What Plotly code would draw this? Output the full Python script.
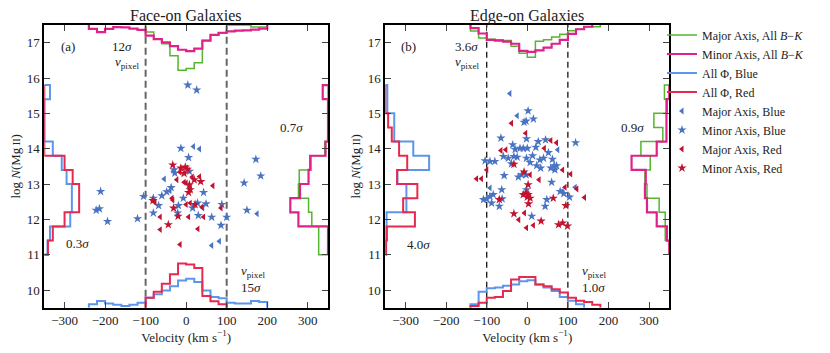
import plotly.graph_objects as go

# ------------------------------------------------------------------ data
VBIN = 20.0          # km/s, velocity histogram bin width
NBIN = 0.4           # dex, column-density histogram bin width
N_START = 11.0       # first column-density bin edge
V_PIXEL = [-100, 100]

# ---- Face-on: velocity histograms (bottom: all-Phi blue/red, top: major/minor)
fo_vblue_start = -240
fo_vblue = [0.10, 0.19, 0.12, 0.08, 0.05, 0.08, 0.14, 0.28, 0.38, 0.49, 0.61,
            0.77, 0.82, 0.73, 0.49, 0.30, 0.27, 0.14, 0.12, 0.12, 0.19, 0.16]
fo_vred_start = -100
fo_vred = [0.28, 0.45, 0.68, 0.95, 1.25, 1.22, 1.12, 0.33, 0.18, 0.10]
fo_vmajor_start = -100
fo_vmajor = [0.20, 0.40, 0.53, 0.87, 1.28, 1.23, 1.07, 0.44, 0.28, 0.23,
             0.0, 0.0, 0.0, 0.06, 0.06]
fo_vminor_start = -240
fo_vminor = [0.11, 0.20, 0.11, 0.06, 0.07, 0.10, 0.14, 0.30, 0.40, 0.49, 0.60,
             0.70, 0.74, 0.67, 0.44, 0.28, 0.22, 0.18, 0.16, 0.15, 0.13, 0.10]
# ---- Face-on: log N histograms (left: blue/red, right: major/minor)
fo_nblue = [8, 14, 64, 68, 68, 55, 43, 21, 0, 0, 0, 14]
fo_nred = [9, 21, 50, 86, 86, 70, 50, 0, 0, 0, 0, 0]
fo_nmajor = [23, 23, 40, 48, 73, 71, 42, 8, 0, 0, 0, 0]
fo_nminor = [0, 0, 73, 93, 69, 48, 44, 6, 0, 0, 0, 13]

# ---- Edge-on: velocity histograms
eo_vblue_start = -140
eo_vblue = [0.10, 0.45, 0.55, 0.57, 0.62, 0.66, 0.75, 0.78, 0.66, 0.57, 0.47,
            0.30, 0.20, 0.10]
eo_vred_start = -140
eo_vred = [0.05, 0.14, 0.28, 0.30, 0.47, 0.80, 0.87, 0.87, 0.66, 0.61, 0.52,
           0.43, 0.28, 0.20, 0.16, 0.08]
eo_vmajor_start = -140
eo_vmajor = [0.17, 0.37, 0.40, 0.42, 0.44, 0.60, 0.80, 0.91, 0.46, 0.42, 0.34,
             0.26, 0.16, 0.12, 0.05, 0.05]
eo_vminor_start = -140
eo_vminor = [0.09, 0.24, 0.42, 0.44, 0.47, 0.53, 0.73, 0.76, 0.72, 0.64, 0.53,
             0.42, 0.25, 0.12, 0.05]
# ---- Edge-on: log N histograms
eo_nblue = [0, 0, 3, 52, 52, 30, 108, 69, 22, 22, 5, 5]
eo_nred = [2, 4, 73, 44, 79, 29, 54, 34, 16, 7, 0, 0]
eo_nmajor = [0, 10, 10, 25, 55, 60, 47, 70, 16, 38, 5, 12]
eo_nminor = [0, 6, 31, 55, 60, 58, 93, 31, 7, 7, 7, 0]

# ---- Face-on absorbers: velocity (km/s) and log N
fo_minblue_v = [4, 26, -13, 6, 172, 184, 143, -211, -222, -214, -194, -120, -105,
                -81, -81, -68, -60, -48, -37, -28, 8, -7, 43, 28, 49, 30, 63, 86,
                100, 88, 150, -21, -30, -19, 16]
fo_minblue_n = [15.80, 15.66, 14.01, 13.75, 13.70, 13.23, 13.03, 12.79, 12.26,
                12.30, 11.94, 12.02, 12.65, 12.60, 12.18, 12.39, 12.67, 12.78,
                12.90, 13.31, 13.36, 12.60, 12.76, 12.46, 12.44, 12.11, 12.06,
                11.83, 12.06, 12.42, 12.26, 12.18, 13.40, 12.39, 12.32]
fo_majblue_v = [18, 33, -54, -31, -40, 175, 41, 63, 82]
fo_majblue_n = [14.06, 13.99, 13.14, 13.36, 12.81, 12.16, 12.32, 11.26, 11.38]
fo_minred_v = [-33, -13, -2, 3, 20, 36, 8, 10, 6, -82, -31, -20, -44, 22, -5]
fo_minred_n = [13.54, 13.45, 13.48, 13.42, 13.12, 13.07, 12.98, 12.84, 12.76,
               12.53, 12.32, 12.09, 11.85, 12.42, 13.30]
fo_majred_v = [-15, -23, 0, 66, 33, 10, -35, -33, 10, 0, 39, 86, -64, 6, 43, -64,
               29, -15, -77, 15, -5]
fo_majred_n = [13.33, 13.12, 13.03, 12.95, 13.21, 12.89, 12.60, 12.55, 12.46,
               12.42, 12.35, 12.32, 12.07, 12.07, 12.07, 11.71, 11.73, 11.29,
               12.48, 13.20, 13.05]

# ---- Edge-on absorbers
eo_majblue_v = [-43, -25, 75, -92, 118, 85]
eo_majblue_n = [15.56, 14.93, 13.97, 12.89, 12.91, 12.79]
eo_minblue_v = [2, 15, -8, -3, -65, -2, 27, 45, 52, 119, -36, -30, -18, -10, 0,
                21, -59, -47, -33, -25, -39, -2, 13, 31, 40, 62, 7, 23, 33, 58,
                66, 72, 68, -104, -92, -80, -57, -22, -14, -3, 60, -63, -84,
                -100, -108, -92, -88, -69, -62, 48, 44, 81, 90, 104, 11, -2]
eo_minblue_n = [15.07, 14.84, 14.75, 14.78, 14.30, 14.28, 14.20, 14.25, 13.89,
                14.17, 14.11, 13.98, 14.01, 14.01, 14.01, 14.04, 13.78, 13.73,
                13.78, 13.76, 13.57, 13.73, 13.80, 13.68, 13.73, 13.70, 13.61,
                13.52, 13.45, 13.45, 13.52, 13.52, 13.40, 13.66, 13.64, 13.64,
                13.24, 13.20, 13.26, 13.26, 13.05, 12.84, 12.70, 12.58, 12.56,
                12.65, 12.46, 12.37, 12.58, 12.56, 12.37, 12.79, 12.73, 12.63,
                12.09, 12.84]
eo_majred_v = [-39, -4, -65, -53, 42, 58, 72, -100, -125, -113, 7, 29, 87, 107,
               93, 122, 141, -21, -7, -2, 15]
eo_majred_n = [14.72, 14.44, 13.95, 13.97, 14.01, 14.23, 14.17, 13.40, 13.15,
               13.15, 13.26, 13.12, 13.40, 13.28, 12.91, 12.86, 12.62, 11.99,
               12.18, 11.76, 11.83]
eo_minred_v = [-33, -8, 2, -10, -3, 2, 7, 0, 3, -69, 64, 95, -33, 34, 77, 87, 99]
eo_minred_n = [13.56, 13.34, 12.98, 12.70, 12.74, 12.70, 12.60, 12.63, 12.44,
               12.56, 12.60, 12.39, 12.16, 11.95, 11.85, 11.90, 11.81]

# ------------------------------------------------------------------ style
FONT = "Liberation Serif, DejaVu Serif, serif"
GREEN = "#55B52E"
MAGENTA = "#E0218A"
HBLUE = "#5C96EC"
HRED = "#E62A4F"
SBLUE = "#4A74C2"
SRED = "#C3122F"
XRANGE = [-350, 350]
YRANGE = [9.5, 17.5]
W, H = 830, 353
PAGE_OFF = 8   # the page body adds an 8 px margin around the figure


def vsteps(start, vals, width):
    """Step outline of a histogram whose bins run along the abscissa."""
    xs, ys = [start], [0.0]
    for i, v in enumerate(vals):
        lo = start + i * width
        xs += [lo, lo + width]
        ys += [v, v]
    xs.append(start + len(vals) * width)
    ys.append(0.0)
    return xs, ys


fig = go.Figure()


def add_vhist(vals, start, color, lw, xa, ya, name, rank, show):
    xs, ys = vsteps(start, vals, VBIN)
    fig.add_trace(go.Scatter(x=xs, y=ys, mode="lines", xaxis=xa, yaxis=ya,
                             line=dict(color=color, width=lw), name=name,
                             legendrank=rank, showlegend=show,
                             hoverinfo="skip"))


def add_nhist(vals, color, lw, xa, ya, name, rank, show):
    ys, xs = vsteps(N_START, vals, NBIN)
    fig.add_trace(go.Scatter(x=xs, y=ys, mode="lines", xaxis=xa, yaxis=ya,
                             line=dict(color=color, width=lw), name=name,
                             legendrank=rank, showlegend=show,
                             hoverinfo="skip"))


def add_pts(v, n, symbol, size, color, xa, ya, name, rank, show):
    fig.add_trace(go.Scatter(x=v, y=n, mode="markers", xaxis=xa, yaxis=ya,
                             marker=dict(symbol=symbol, size=size, color=color,
                                         line=dict(width=0)),
                             name=name, legendrank=rank, showlegend=show))


NAMES = ["Major Axis, All <i>B</i>\u2212<i>K</i>",
         "Minor Axis, All <i>B</i>\u2212<i>K</i>",
         "All \u03a6, Blue", "All \u03a6, Red",
         "Major Axis, Blue", "Minor Axis, Blue",
         "Major Axis, Red", "Minor Axis, Red"]

panels = [
    dict(x="x", y="y", yb="y3", yt="y4", xl="x3", xr="x4",
         vblue=(fo_vblue, fo_vblue_start), vred=(fo_vred, fo_vred_start),
         vmaj=(fo_vmajor, fo_vmajor_start), vmin=(fo_vminor, fo_vminor_start),
         nblue=fo_nblue, nred=fo_nred, nmaj=fo_nmajor, nmin=fo_nminor,
         majblue=(fo_majblue_v, fo_majblue_n), minblue=(fo_minblue_v, fo_minblue_n),
         majred=(fo_majred_v, fo_majred_n), minred=(fo_minred_v, fo_minred_n)),
    dict(x="x2", y="y2", yb="y5", yt="y6", xl="x5", xr="x6",
         vblue=(eo_vblue, eo_vblue_start), vred=(eo_vred, eo_vred_start),
         vmaj=(eo_vmajor, eo_vmajor_start), vmin=(eo_vminor, eo_vminor_start),
         nblue=eo_nblue, nred=eo_nred, nmaj=eo_nmajor, nmin=eo_nminor,
         majblue=(eo_majblue_v, eo_majblue_n), minblue=(eo_minblue_v, eo_minblue_n),
         majred=(eo_majred_v, eo_majred_n), minred=(eo_minred_v, eo_minred_n)),
]

for k, p in enumerate(panels):
    show = k == 0
    add_pts(*p["minblue"], "star", 7, SBLUE, p["x"], p["y"], NAMES[5], 6, show)
    add_pts(*p["majblue"], "triangle-left", 6, SBLUE, p["x"], p["y"], NAMES[4], 5, show)
    add_pts(*p["minred"], "star", 7, SRED, p["x"], p["y"], NAMES[7], 8, show)
    add_pts(*p["majred"], "triangle-left", 6, SRED, p["x"], p["y"], NAMES[6], 7, show)
    add_vhist(p["vblue"][0], p["vblue"][1], HBLUE, 2, p["x"], p["yb"], NAMES[2], 3, show)
    add_vhist(p["vred"][0], p["vred"][1], HRED, 2, p["x"], p["yb"], NAMES[3], 4, show)
    add_vhist(p["vmaj"][0], p["vmaj"][1], GREEN, 1.5, p["x"], p["yt"], NAMES[0], 1, show)
    add_vhist(p["vmin"][0], p["vmin"][1], MAGENTA, 2.2, p["x"], p["yt"], NAMES[1], 2, False)
    add_nhist(p["nblue"], HBLUE, 2, p["xl"], p["y"], NAMES[2], 3, False)
    add_nhist(p["nred"], HRED, 2, p["xl"], p["y"], NAMES[3], 4, False)
    add_nhist(p["nmaj"], GREEN, 1.5, p["xr"], p["y"], NAMES[0], 1, False)
    add_nhist(p["nmin"], MAGENTA, 2.2, p["xr"], p["y"], NAMES[1], 2, show)


# ------------------------------------------------------------------ layout
def px_x(px):          # page pixel -> paper fraction
    return (px - PAGE_OFF) / W


def px_y(py):
    return 1 - (py - PAGE_OFF) / H


XD = [[px_x(44.3), px_x(328.0)], [px_x(385.3), px_x(669.3)]]
YD = [px_y(307.7), px_y(25.0)]
tickfont = dict(family=FONT, size=13, color="#222")


def main_x(dom):
    return dict(domain=dom, range=XRANGE, tickvals=[-300, -200, -100, 0, 100, 200, 300],
                ticks="inside", ticklen=6, tickwidth=1, tickcolor="#444",
                showline=True, linewidth=2, linecolor="black", mirror="ticks",
                showgrid=False, zeroline=False, tickfont=tickfont, automargin=False,
                title=dict(text="Velocity (km s<sup>\u22121</sup>)",
                           font=dict(family=FONT, size=13, color="#222"), standoff=2))


def main_y(anchor):
    return dict(domain=YD, range=YRANGE, tickvals=list(range(10, 18)), anchor=anchor,
                ticks="inside", ticklen=6, tickwidth=1, tickcolor="#444",
                showline=True, linewidth=2, linecolor="black", mirror="ticks",
                showgrid=False, zeroline=False, tickfont=tickfont, automargin=False,
                title=dict(text="log <i>N</i>(Mg<span style='font-size:10px'> II</span>)",
                           font=dict(family=FONT, size=13, color="#222"), standoff=4))


def ov(over, anchor, rng):
    return dict(overlaying=over, anchor=anchor, range=rng, visible=False,
                showgrid=False, zeroline=False, automargin=False)


fig.update_layout(
    width=W, height=H, margin=dict(l=0, r=0, t=0, b=0, autoexpand=False),
    paper_bgcolor="white", plot_bgcolor="white",
    font=dict(family=FONT, size=13, color="#222"),
    xaxis=dict(main_x(XD[0]), anchor="y"),
    yaxis=main_y("x"),
    xaxis2=dict(main_x(XD[1]), anchor="y2"),
    yaxis2=main_y("x2"),
    yaxis3=ov("y", "x", [0, 8]), yaxis4=ov("y", "x", [8, 0]),
    xaxis3=ov("x", "y", [0, 700]), xaxis4=ov("x", "y", [700, 0]),
    yaxis5=ov("y2", "x2", [0, 8]), yaxis6=ov("y2", "x2", [8, 0]),
    xaxis5=ov("x2", "y2", [0, 700]), xaxis6=ov("x2", "y2", [700, 0]),
    showlegend=True,
    legend=dict(x=px_x(662), y=px_y(20.5), xanchor="left", yanchor="top",
                font=dict(family=FONT, size=12, color="#222"),
                bgcolor="rgba(0,0,0,0)", borderwidth=0, tracegroupgap=0,
                itemwidth=30),
)

# dashed v_pixel lines
for vp in V_PIXEL:
    fig.add_shape(type="line", xref="x", yref="y domain", x0=vp, x1=vp, y0=0, y1=1,
                  line=dict(color="#666", width=2, dash="7px,4px"), layer="below")
    fig.add_shape(type="line", xref="x2", yref="y2 domain", x0=vp, x1=vp, y0=0, y1=1,
                  line=dict(color="black", width=1.2, dash="6px,4px"), layer="below")

# titles
for xc, txt in [((XD[0][0] + XD[0][1]) / 2, "Face-on Galaxies"),
                ((XD[1][0] + XD[1][1]) / 2, "Edge-on Galaxies")]:
    fig.add_annotation(x=xc, y=px_y(16), xref="paper", yref="paper", text=txt,
                       xanchor="center", yanchor="middle", showarrow=False,
                       font=dict(family=FONT, size=16, color="#222"))

# in-panel labels
labels = [
    ("x", "y", -292, 16.88, "(a)", "center"),
    ("x", "y", -128, 16.88, "12<i>\u03c3</i>", "right"),
    ("x", "y", -112, 16.45, "<i>v</i><sub>pixel</sub>", "right"),
    ("x", "y", 259, 14.6, "0.7<i>\u03c3</i>", "center"),
    ("x", "y", -268, 11.32, "0.3<i>\u03c3</i>", "center"),
    ("x", "y", 130, 10.53, "<i>v</i><sub>pixel</sub>", "left"),
    ("x", "y", 130, 10.08, "15<i>\u03c3</i>", "left"),
    ("x2", "y2", -292, 16.88, "(b)", "center"),
    ("x2", "y2", -117, 16.88, "3.6<i>\u03c3</i>", "right"),
    ("x2", "y2", -115, 16.45, "<i>v</i><sub>pixel</sub>", "right"),
    ("x2", "y2", 259, 14.6, "0.9<i>\u03c3</i>", "center"),
    ("x2", "y2", -268, 11.29, "4.0<i>\u03c3</i>", "center"),
    ("x2", "y2", 130, 10.53, "<i>v</i><sub>pixel</sub>", "left"),
    ("x2", "y2", 130, 10.08, "1.0<i>\u03c3</i>", "left"),
]
for xr, yr, xv, yv, txt, anc in labels:
    fig.add_annotation(x=xv, y=yv, xref=xr, yref=yr, text=txt, showarrow=False,
                       xanchor=anc, font=dict(family=FONT, size=13, color="#222"))

fig.write_html("out.html")
